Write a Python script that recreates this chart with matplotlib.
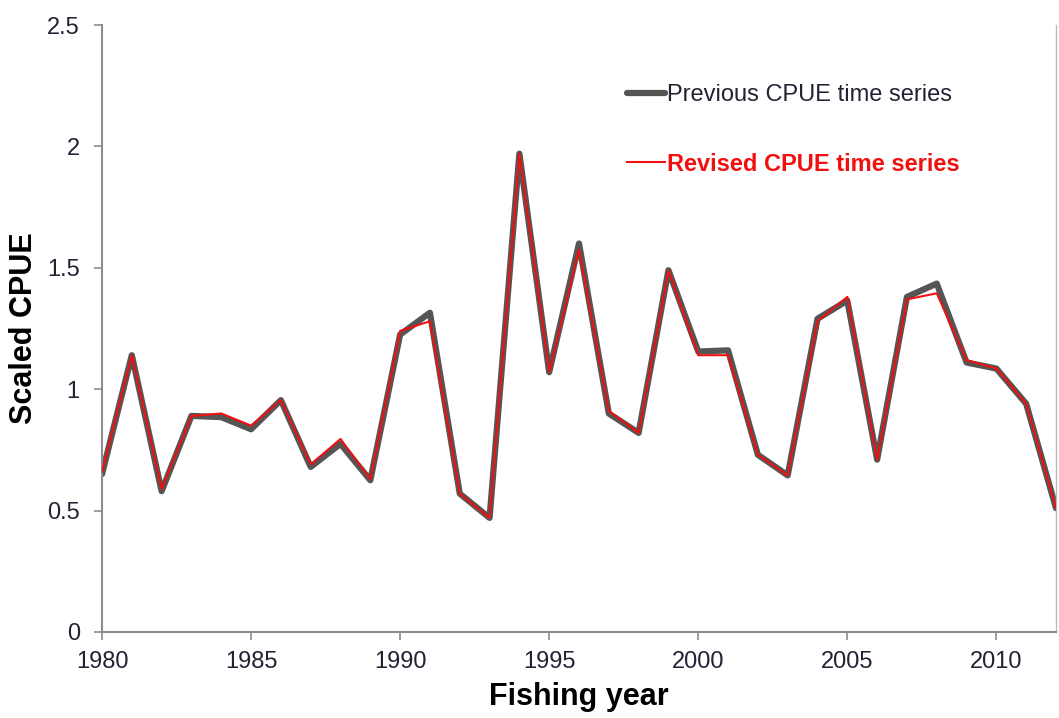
import matplotlib
matplotlib.use("Agg")
import matplotlib.pyplot as plt

years = list(range(1980, 2013))
previous = [0.65, 1.14, 0.58, 0.89, 0.885, 0.835, 0.955, 0.68, 0.775, 0.625, 1.225,
            1.315, 0.57, 0.47, 1.97, 1.07, 1.60, 0.90, 0.82, 1.49, 1.155, 1.16,
            0.73, 0.645, 1.29, 1.365, 0.71, 1.38, 1.435, 1.11, 1.085, 0.94, 0.51]
revised = [0.66, 1.14, 0.59, 0.89, 0.90, 0.85, 0.955, 0.69, 0.795, 0.63, 1.24,
           1.28, 0.57, 0.47, 1.97, 1.07, 1.575, 0.91, 0.82, 1.49, 1.14, 1.14,
           0.73, 0.645, 1.28, 1.38, 0.71, 1.37, 1.395, 1.12, 1.085, 0.94, 0.51]
xticks = [1980, 1985, 1990, 1995, 2000, 2005, 2010]
yticks = [0, 0.5, 1, 1.5, 2, 2.5]
ytick_labels = ["0", "0.5", "1", "1.5", "2", "2.5"]

plt.rcParams['font.family'] = ['Liberation Sans', 'DejaVu Sans']

fig = plt.figure(figsize=(10.59, 7.18), dpi=100)
ax = fig.add_axes([102/1059, (718-632)/718, (1056-102)/1059, (632-25)/718])

ax.plot(years, previous, color='#555555', lw=4.5, solid_joinstyle='round',
        solid_capstyle='round', label='Previous CPUE time series', zorder=2)
ax.plot(years, revised, color='#f01010', lw=1.5, solid_joinstyle='round',
        label='Revised CPUE time series', zorder=3)

ax.set_xlim(1980, 2012)
ax.set_ylim(0, 2.5)
ax.set_xticks(xticks)
ax.set_xticklabels([str(x) for x in xticks])
ax.set_yticks(yticks)
ax.set_yticklabels(ytick_labels)

ax.spines['top'].set_visible(False)
for s in ['left', 'bottom']:
    ax.spines[s].set_color('#8c8c8c')
    ax.spines[s].set_linewidth(1.5)
ax.spines['right'].set_color('#bbbbbb')
ax.spines['right'].set_linewidth(1.0)

ax.tick_params(axis='both', direction='out', length=6, width=1.2, color='#8c8c8c',
               labelsize=17, labelcolor='#222233')
ax.tick_params(axis='x', pad=8)
ax.tick_params(axis='y', pad=10)

ax.set_xlabel('Fishing year', fontsize=22, fontweight='bold', labelpad=6)
ax.set_ylabel('Scaled CPUE', fontsize=22, fontweight='bold', labelpad=6)

leg = ax.legend(loc='upper left', bbox_to_anchor=(0.528, 0.937), frameon=False,
                fontsize=17, handlelength=1.6, handletextpad=0.1, labelspacing=1.95)
texts = leg.get_texts()
texts[0].set_color('#222233')
texts[1].set_color('#f01010')
texts[1].set_fontweight('bold')

fig.savefig('out.png', dpi=100)
